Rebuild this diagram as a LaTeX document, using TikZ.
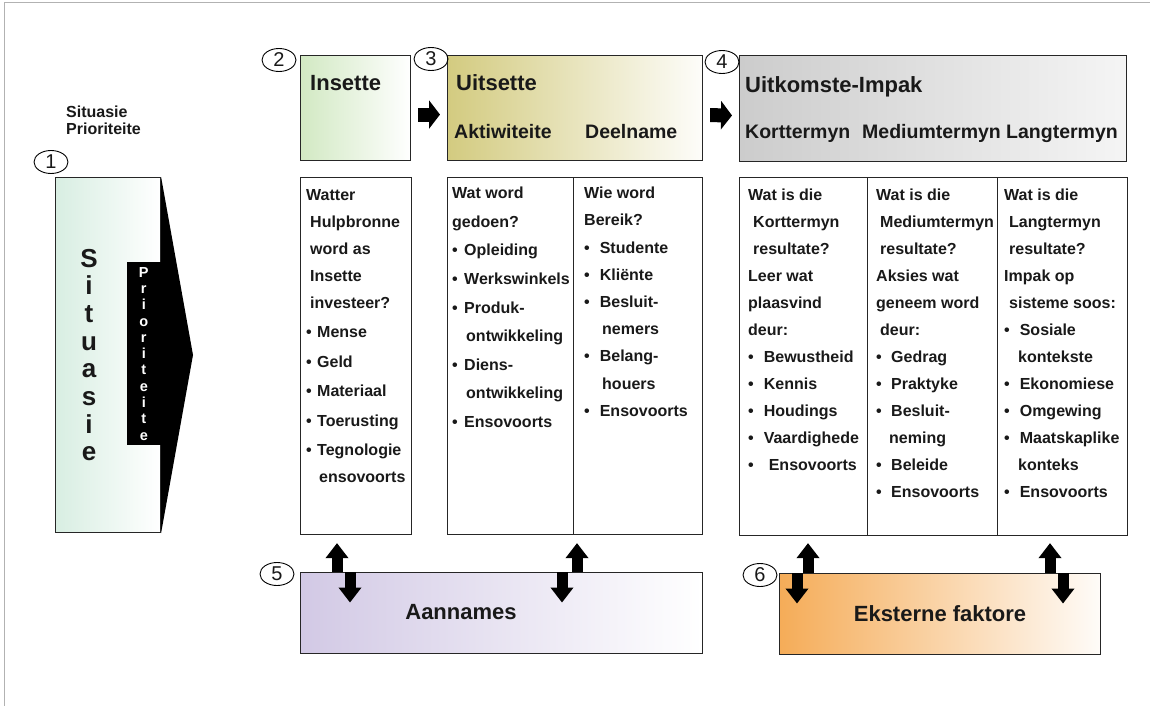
\documentclass[tikz,border=0pt]{standalone}
\usepackage{fontspec}
\setmainfont{Liberation Sans}
\usetikzlibrary{positioning,arrows.meta,shapes.geometric}

\definecolor{sitgreen}{HTML}{D8EEE2}
\definecolor{insgreen}{HTML}{D2E9C3}
\definecolor{uitkhaki}{HTML}{D3CB80}
\definecolor{ukgray}{HTML}{CCCCCC}
\definecolor{aanlav}{HTML}{D2C9E5}
\definecolor{ekorange}{HTML}{F5AC58}

\newcommand{\itm}[1][10pt]{\textbullet\hspace{#1}}

\begin{document}
\begin{tikzpicture}[%
    x=1pt,
    y=-1pt,
    every node/.style={text=black!90},
    box/.style={%
      draw=black!85,
      line width=1.1pt,
      inner sep=0pt,
      anchor=north west
    },
    head/.style={anchor=base west, inner sep=0pt, font=\bfseries\fontsize{22}{26}\selectfont},
    subhead/.style={anchor=base west, inner sep=0pt, font=\bfseries\fontsize{19.5}{23}\selectfont},
    list/.style={anchor=north west, inner sep=0pt, align=left, font=\bfseries\fontsize{16}{27}\selectfont},
    num/.style={%
      ellipse,
      draw=black,
      line width=0.9pt,
      minimum width=34pt,
      minimum height=23pt,
      inner sep=0pt,
      font=\fontsize{20}{20}\selectfont
    },
    fatright/.style={line width=14pt, -{Triangle[width=28pt,length=11pt]}, shorten <=7pt, shorten >=7pt},
    fatvert/.style={line width=11pt, -{Triangle[width=22pt,length=15pt]}}
  ]
    \useasboundingbox (0,0) rectangle (1150,706);
    \draw[black!30, line width=1pt] (4,706) -- (4,2.5) -- (1150,2.5);

    % situasie en prioriteite
    \node[anchor=north west, inner sep=0pt, align=left, font=\bfseries\fontsize{16}{17}\selectfont] (lbl) at (66,106) {Situasie\\Prioriteite};
    \node[box, minimum width=105pt, minimum height=355pt, left color=sitgreen, right color=white] (sit) at (55,177) {};
    \coordinate (tip) at (193,355);
    \fill[black] (sit.north east) -- (tip) -- (sit.south east) -- cycle;
    \node[fill=black, text=white, anchor=north east, minimum width=34pt, minimum height=183pt, inner sep=0pt,
          align=center, font=\bfseries\fontsize{14.5}{16.3}\selectfont] (prio) at (161,262)
          {P\\r\\i\\o\\r\\i\\t\\e\\i\\t\\e};
    \node[align=center, inner sep=0pt, font=\bfseries\fontsize{26}{27.7}\selectfont] (sitw) at (89,355)
          {S\\i\\t\\u\\a\\s\\i\\e};

    % boonste blokke
    \node[box, minimum width=110pt, minimum height=105pt, left color=insgreen, right color=white] (ins) at (300,55) {};
    \node[box, minimum width=255pt, minimum height=105pt, left color=uitkhaki, right color=uitkhaki!4] (uit) at (447,55) {};
    \node[box, minimum width=387pt, minimum height=106pt, left color=ukgray, right color=ukgray!20] (uk) at (739,55) {};

    \node[head] (insH) at (310,91) {Insette};
    \node[head] (uitH) at (456,91) {Uitsette};
    \node[subhead] (aktH) at (454,138) {Aktiwiteite};
    \node[subhead] (deelH) at (585,138) {Deelname};
    \node[head] (ukH) at (745,93) {Uitkomste-Impak};
    \node[subhead] (kortH) at (745,138) {Korttermyn};
    \node[subhead] (medH) at (862,138) {Mediumtermyn};
    \node[subhead] (langH) at (1006,138) {Langtermyn};

    \draw[fatright] ([yshift=-6.5pt]ins.east) -- ([yshift=-6.5pt]uit.west);
    \draw[fatright] ([yshift=-7pt]uit.east) -- ([yshift=-7pt]uk.west);

    % lyste
    \node[box, minimum width=111pt, minimum height=357pt] (insL) at (300,177) {};
    \node[box, minimum width=126pt, minimum height=357pt] (uitA) at (447,177) {};
    \node[box, minimum width=129pt, minimum height=357pt] (uitB) at (573,177) {};
    \node[box, minimum width=128pt, minimum height=358pt] (ukA) at (739,177) {};
    \node[box, minimum width=130pt, minimum height=358pt] (ukB) at (867,177) {};
    \node[box, minimum width=130pt, minimum height=358pt] (ukC) at (997,177) {};

    \node[list] (insT) at (306,189.5) {Watter\\
      \hspace{4pt}Hulpbronne\\
      \hspace{4pt}word as\\
      \hspace{4pt}Insette\\
      \hspace{4pt}investeer?\\[2pt]
      \itm[5.4pt]Mense\\[2.5pt]
      \itm[5.4pt]Geld\\[2.5pt]
      \itm[5.4pt]Materiaal\\[2.5pt]
      \itm[5.4pt]Toerusting\\[2.5pt]
      \itm[5.4pt]Tegnologie\\
      \hspace{13pt}ensovoorts};
    \node[list, font=\bfseries\fontsize{16}{28.6}\selectfont] (uitAT) at (452,187) {Wat word\\
      gedoen?\\
      \itm[6.4pt]Opleiding\\
      \itm[6.4pt]Werkswinkels\\
      \itm[6.4pt]Produk-\\
      \hspace{14pt}ontwikkeling\\
      \itm[6.4pt]Diens-\\
      \hspace{14pt}ontwikkeling\\
      \itm[6.4pt]Ensovoorts};
    \node[list, font=\bfseries\fontsize{16}{27.2}\selectfont] (uitBT) at (584,187) {Wie word\\
      Bereik?\\
      \itm Studente\\
      \itm Kliënte\\
      \itm Besluit-\\
      \hspace{18pt}nemers\\
      \itm Belang-\\
      \hspace{18pt}houers\\
      \itm Ensovoorts};
    \node[list] (ukAT) at (748,189) {Wat is die\\
      \hspace{5pt}Korttermyn\\
      \hspace{5pt}resultate?\\
      Leer wat\\
      plaasvind\\
      deur:\\
      \itm Bewustheid\\
      \itm Kennis\\
      \itm Houdings\\
      \itm Vaardighede\\
      \itm[15pt]Ensovoorts};
    \node[list] (ukBT) at (876,189) {Wat is die\\
      \hspace{4pt}Mediumtermyn\\
      \hspace{4pt}resultate?\\
      Aksies wat\\
      geneem word\\
      \hspace{4pt}deur:\\
      \itm[9.4pt]Gedrag\\
      \itm[9.4pt]Praktyke\\
      \itm[9.4pt]Besluit-\\
      \hspace{13pt}neming\\
      \itm[9.4pt]Beleide\\
      \itm[9.4pt]Ensovoorts};
    \node[list] (ukCT) at (1004,189) {Wat is die\\
      \hspace{5pt}Langtermyn\\
      \hspace{5pt}resultate?\\
      Impak op\\
      \hspace{5pt}sisteme soos:\\
      \itm Sosiale\\
      \hspace{14pt}kontekste\\
      \itm Ekonomiese\\
      \itm Omgewing\\
      \itm Maatskaplike\\
      \hspace{14pt}konteks\\
      \itm Ensovoorts};

    % onderste blokke
    \node[box, minimum width=402pt, minimum height=81pt, left color=aanlav, right color=white] (aan) at (300,572) {};
    \node[anchor=center, inner sep=0pt, font=\bfseries\fontsize{22}{26}\selectfont] (aanT) at (461,612) {Aannames};
    \node[box, minimum width=321pt, minimum height=81pt, left color=ekorange, right color=ekorange!4,
          font=\bfseries\fontsize{22}{26}\selectfont] (eks) at (779,573) {Eksterne faktore};

    \coordinate (a1) at (337,0);
    \coordinate (a2) at (350,0);
    \coordinate (a3) at (577,0);
    \coordinate (a4) at (562,0);
    \coordinate (e1) at (808,0);
    \coordinate (e2) at (797,0);
    \coordinate (e3) at (1050,0);
    \coordinate (e4) at (1063,0);

    \draw[fatvert, shorten >=8pt] (aan.north -| a1) -- (insL.south -| a1);
    \draw[fatvert, shorten >=10.5pt] (aan.north -| a2) -- (aan.center -| a2);
    \draw[fatvert, shorten >=8pt] (aan.north -| a3) -- (uitB.south -| a3);
    \draw[fatvert, shorten >=10.5pt] (aan.north -| a4) -- (aan.center -| a4);
    \draw[fatvert, shorten >=7pt] (eks.north -| e1) -- (ukA.south -| e1);
    \draw[fatvert, shorten >=10.5pt] (eks.north -| e2) -- (eks.center -| e2);
    \draw[fatvert, shorten >=7pt] (eks.north -| e3) -- (ukC.south -| e3);
    \draw[fatvert, shorten >=10.5pt] (eks.north -| e4) -- (eks.center -| e4);

    % nommers
    \node[num] (n1) at (51,162) {1};
    \node[num] (n2) at (279,60) {2};
    \node[num] (n3) at (431,59) {3};
    \node[num] (n4) at (722,62) {4};
    \node[num] (n5) at (277,574) {5};
    \node[num] (n6) at (760,575) {6};
  \end{tikzpicture}
\end{document}
